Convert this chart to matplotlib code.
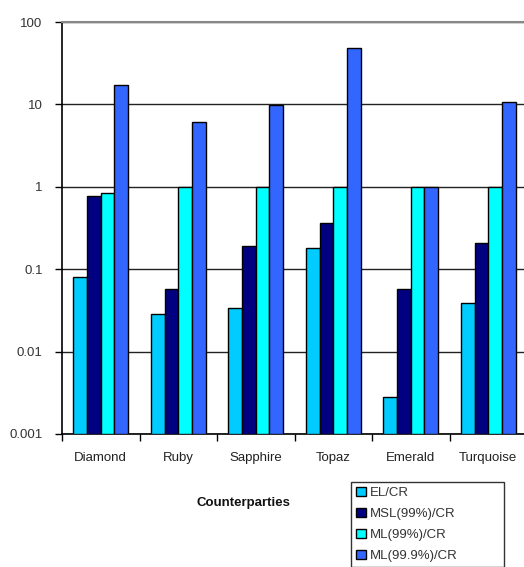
import matplotlib.pyplot as plt
import numpy as np

plt.rcParams['font.family'] = ['Liberation Sans', 'DejaVu Sans']

counterparties = ['Diamond', 'Ruby', 'Sapphire', 'Topaz', 'Emerald', 'Turquoise']
series_names = ['EL/CR', 'MSL(99%)/CR', 'ML(99%)/CR', 'ML(99.9%)/CR']
el_cr = [0.080, 0.0286, 0.034, 0.18, 0.0028, 0.0386]
msl_99 = [0.77, 0.057, 0.19, 0.36, 0.057, 0.207]
ml_99 = [0.845, 1.0, 1.0, 1.0, 1.0, 1.0]
ml_999 = [17.2, 6.1, 9.8, 48.3, 1.0, 10.7]
colors = ['#00CCFF', '#000080', '#00FFFF', '#3366FF']

fig = plt.figure(figsize=(5.24, 5.67), dpi=100)
ax = fig.add_axes([62 / 524, 133 / 567, 465 / 524, 412 / 567])

x = np.arange(len(counterparties))
width = 0.177
floor = 0.001
for i, (vals, name, c) in enumerate(zip([el_cr, msl_99, ml_99, ml_999], series_names, colors)):
    offs = (i - 1.5) * width
    heights = np.array(vals) - floor
    ax.bar(x + offs, heights, width, bottom=floor, color=c, edgecolor='black',
           linewidth=1.0, label=name, zorder=3)

ax.set_yscale('log')
ax.set_ylim(0.001, 100)
ax.set_xlim(-0.5, len(counterparties) - 0.5)
yt = [0.001, 0.01, 0.1, 1, 10, 100]
ax.set_yticks(yt)
ax.set_yticklabels(['0.001', '0.01', '0.1', '1', '10', '100'])
ax.yaxis.set_minor_locator(plt.NullLocator())
ax.tick_params(axis='y', which='major', length=5, width=1, pad=9,
               labelsize=9.5, labelcolor='#333333', direction='out')

ax.set_xticks(x)
ax.set_xticklabels(counterparties)
ax.set_xticks(np.arange(len(counterparties) + 1) - 0.5, minor=True)
ax.tick_params(axis='x', which='major', length=0, pad=13, labelsize=9.5,
               labelcolor='#222222')
ax.tick_params(axis='x', which='minor', length=5, width=1, direction='out')

ax.grid(axis='y', which='major', color='#222222', linewidth=1.0, zorder=0)
ax.set_axisbelow(True)
ax.spines['right'].set_visible(False)
ax.spines['top'].set_color('#888888')
ax.spines['top'].set_linewidth(1.5)
ax.spines['left'].set_linewidth(1.2)
ax.spines['bottom'].set_linewidth(1.2)

fig.text(243 / 524, 1 - 503 / 567, 'Counterparties', ha='center', va='center',
         fontsize=9.5, fontweight='bold', color='#111111')

leg = fig.legend(loc='upper left', bbox_to_anchor=(351 / 524, 1 - 482 / 567, 153 / 524, 0.0),
                 mode='expand', frameon=True, fancybox=False, edgecolor='black',
                 fontsize=9.5, handlelength=0.75, handleheight=0.75, handletextpad=0.3,
                 labelspacing=0.65, borderpad=0.35, borderaxespad=0)
leg.get_frame().set_linewidth(1.0)
for t in leg.get_texts():
    t.set_color('#333333')

fig.savefig('out.png', dpi=100)
